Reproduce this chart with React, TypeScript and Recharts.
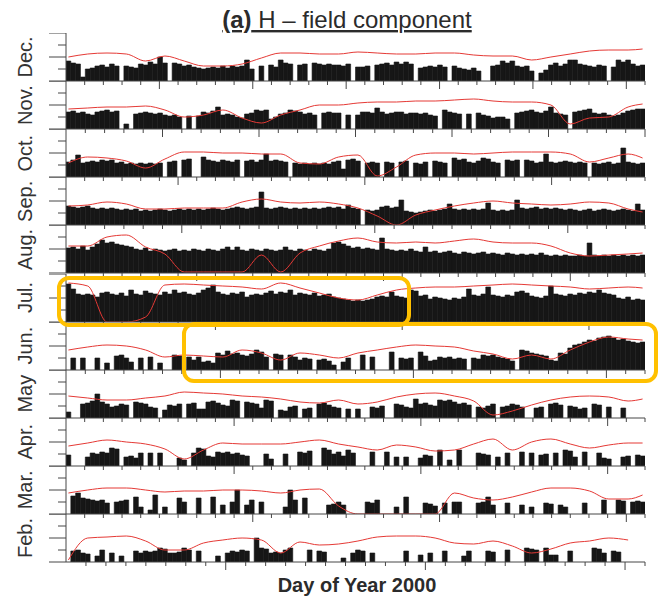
import { ComposedChart, Bar, Line, XAxis, YAxis } from 'recharts'

// rows from top to bottom
const months = ['Dec.', 'Nov.', 'Oct.', 'Sep.', 'Aug.', 'Jul.', 'Jun.', 'May', 'Apr.', 'Mar.', 'Feb.']
const dayStart = [335, 305, 274, 244, 213, 182, 152, 121, 91, 60, 32]
const dayCount = [31, 30, 31, 30, 31, 31, 30, 31, 31, 31, 29]
const majorStep = [5, 5, 10, 10, 10, 10, 10, 10, 10, 10, 10]

// activity bars, 120 per month (height on a 0-48 row scale)
const barsDec = [20,18,17,4,12,13,15,16,14,17, 15,0,15,14,13,17,16,19,17,24, 18,0,18,17,15,16,14,13,12,13, 14,13,15,13,15,14,15,21,12,0, 15,0,16,14,21,18,17,0,16,17, 0,18,17,16,17,
  16,16,15,17,0,14,14,15,0,16, 17,18,16,19,17,19,17,0,13,14, 15,14,16,14,0,15,13,12,11,13, 10,0,0,15,16,20,18,20,15,14, 15,10,0,8,11,16,18,15,17,21, 21,17,16,15,14,16,15,0,14,21, 19,21,17,15,16]
const barsNov = [17,18,16,17,15,14,17,18,19,17, 18,0,5,0,15,16,17,16,15,16, 14,13,14,12,0,13,0,13,17,16, 18,22,14,15,14,12,11,15,16,19, 18,19,10,12,15,16,19,18,17,15, 16,14,0,16,17,
  16,16,0,14,0,14,17,17,16,21, 17,15,16,17,17,15,16,16,15,16, 14,13,0,19,17,16,15,0,15,0, 16,14,13,11,12,12,10,0,16,17, 18,19,17,16,18,22,16,15,14,0, 17,18,19,20,16,15,16,14,13,14, 16,18,19,20,20]
const barsOct = [15,17,22,14,15,16,15,17,16,17, 14,15,13,14,13,14,13,14,13,14, 0,15,16,0,17,18,0,0,20,17, 16,15,17,16,15,17,0,16,17,15, 17,23,16,17,16,15,0,14,13,14, 13,14,13,14,13,
  15,16,8,17,18,16,0,14,15,14, 0,15,14,0,15,16,0,14,13,15, 0,16,15,14,0,19,17,18,15,14, 16,19,18,15,14,0,17,16,17,0, 17,16,14,15,23,15,14,15,16,15, 14,15,14,0,14,13,14,15,13,14, 29,15,14,13,14]
const barsSep = [19,18,17,18,19,17,16,17,16,17, 16,15,16,15,16,14,15,14,15,16, 15,14,15,16,15,16,15,16,15,16, 17,16,15,16,17,18,17,16,17,18, 33,17,16,17,18,17,16,17,16,17, 16,17,16,17,18,
  17,18,16,20,17,16,0,15,14,15, 18,19,17,18,25,14,13,12,13,14, 15,14,15,16,21,16,15,16,15,16, 15,16,22,15,14,15,14,15,25,17, 16,17,18,16,17,16,17,16,15,16, 15,14,15,16,14,15,16,15,14,15, 16,15,14,21,15]
const barsAug = [25,26,24,27,23,26,29,33,30,31, 29,28,27,26,24,23,25,22,24,23, 22,23,24,22,23,22,24,23,22,24, 23,22,24,26,23,26,23,22,24,23, 22,24,23,22,23,26,23,22,24,23, 22,24,23,22,24,
  30,31,29,27,25,26,24,25,24,23, 35,24,23,22,23,22,24,22,21,26, 21,22,20,21,22,20,19,21,20,19, 20,21,19,20,19,18,20,19,18,19, 18,19,18,20,18,17,18,17,18,17, 17,18,17,30,18,17,18,17,18,17, 18,17,18,17,18]
const barsJul = [38,33,28,27,28,27,25,29,30,28, 27,29,26,32,28,27,31,29,28,27, 30,28,32,29,30,28,27,29,32,34, 37,30,28,27,29,28,30,25,27,28, 27,29,31,28,30,29,32,27,29,28, 27,29,26,27,28,
  25,24,23,22,21,22,21,22,23,25, 26,25,30,26,25,24,32,31,26,27, 23,25,24,23,22,24,23,25,33,27, 26,28,35,27,26,25,27,26,30,31, 29,26,25,24,26,36,28,27,26,28, 27,29,28,30,29,32,29,28,27,24, 23,25,22,23,22]
const barsJun = [0,12,0,12,0,0,12,0,7,0, 14,15,12,8,0,12,0,13,0,7, 0,0,15,14,0,13,10,13,8,9, 7,17,15,19,16,17,15,14,16,20, 18,13,0,16,15,0,15,13,10,12, 11,0,10,11,9,
  5,0,8,12,0,0,15,0,13,0, 0,0,18,0,12,11,12,0,18,14, 9,10,13,12,13,11,12,11,0,12, 11,15,14,15,13,12,11,9,0,20, 19,17,16,15,14,10,9,17,16,22, 25,26,28,30,29,32,33,34,32,30, 31,29,28,27,28]
const barsMay = [6,0,0,14,15,17,24,16,14,11, 12,14,13,0,16,15,14,11,10,0, 8,13,12,14,0,14,15,9,9,16, 17,15,13,12,18,17,0,16,15,14, 10,18,17,0,8,7,11,12,0,9, 10,0,14,15,13,
  11,10,0,9,0,9,0,0,11,10, 12,0,0,14,13,11,10,19,14,15, 13,12,18,17,18,16,14,15,13,0, 11,10,12,14,0,11,12,14,13,11, 0,0,10,11,0,14,15,13,0,12, 11,9,10,0,14,13,0,11,0,0, 10,0,0,0,0]
const barsApr = [11,0,0,0,9,13,12,14,13,18, 17,0,9,10,8,13,0,13,0,13, 0,0,0,8,6,0,13,18,17,10, 9,14,13,14,12,13,11,10,0,0, 0,12,7,0,0,12,0,0,14,13, 15,0,0,18,16,
  12,14,10,16,13,0,0,0,14,0, 0,14,0,9,0,9,0,0,8,11, 10,0,16,0,6,0,16,0,0,0, 13,12,11,0,9,0,13,0,0,14, 0,13,0,11,12,0,13,0,16,15, 9,0,14,0,0,13,8,7,0,0, 9,10,0,11,10]
const barsMar = [0,18,21,16,15,14,13,14,11,0, 12,13,14,0,17,7,0,4,19,0, 7,0,0,16,12,0,0,16,0,0, 17,0,9,0,12,24,0,9,14,0, 12,0,0,0,0,7,24,14,0,16, 0,0,0,0,9,
  10,12,9,0,0,0,0,12,11,14, 0,0,0,7,0,17,0,0,0,11, 10,8,0,11,0,12,12,0,0,0, 11,12,17,9,0,0,11,0,0,9, 0,7,0,0,11,10,0,9,7,0, 0,0,11,0,0,0,14,0,0,14, 13,0,12,13,12]
const barsFeb = [0,11,12,9,8,0,6,12,0,9, 0,6,0,0,11,9,11,10,11,14, 13,9,9,10,14,12,0,11,0,0, 0,6,0,9,11,10,12,11,0,24, 14,13,9,10,9,12,14,0,0,0, 12,0,11,10,0,
  0,0,4,0,9,12,11,0,9,0, 0,0,0,0,0,11,0,0,7,0, 9,0,0,11,0,0,0,6,11,0, 0,0,11,10,0,0,12,0,0,0, 14,13,12,0,14,7,7,0,0,11, 0,0,0,0,14,13,9,0,11,10, 0,0,0,0,0]

// red reference curve, 31 points per month
const redDec = [24,27,28,27,20,25,20,15,15,17,23,28,28,27, 27,29,28,27,27,28,28,26,25,25,21,24,27,30,31,31,32]
const redNov = [20,21,22,22,23,19,12,14,19,11,6,14,19,24, 24,26,27,27,28,28,29,30,28,27,27,24,5,11,12,22,25]
const redOct = [14,20,19,16,9,18,25,25,24,24,23,23,14,13, 20,22,1,10,22,24,24,23,24,25,25,25,23,15,19,23,19]
const redSep = [19,20,23,21,16,16,17,17,17,23,26,23,22,23, 21,17,9,0,10,15,19,22,24,22,21,20,21,23,22,16,13]
const redAug = [27,27,36,38,26,19,1,1,1,1,18,1,20,27, 32,35,31,30,31,30,32,34,31,30,30,27,20,17,18,19,20]
const redJul = [39,36,0,0,5,37,38,37,36,35,33,39,34,29, 24,22,27,32,34,35,35,36,37,38,37,36,35,33,34,35,34]
const redJun = [20,23,25,24,20,13,15,14,13,20,17,10,17,15, 12,17,20,23,25,24,23,19,16,11,15,11,20,28,33,31,30]
const redMay = [22,20,18,18,20,22,26,25,24,22,21,19,16,15, 18,14,16,21,24,25,22,17,3,7,13,18,21,22,21,17,19]
const redApr = [20,23,26,24,22,17,7,16,23,22,22,22,24,26, 22,19,16,21,19,15,16,22,27,16,24,27,22,18,21,23,23]
const redMar = [21,24,26,26,24,22,23,23,24,24,23,21,24,25, 8,0,0,0,0,0,21,16,14,17,22,26,26,23,15,15,19]
const redFeb = [2,24,25,26,21,12,12,19,22,24,22,9,20,17, 18,21,25,26,26,24,19,18,21,16,9,13,19,21,24,22,null]

const barRows = [barsDec, barsNov, barsOct, barsSep, barsAug, barsJul, barsJun, barsMay, barsApr, barsMar, barsFeb]
const redRows = [redDec, redNov, redOct, redSep, redAug, redJul, redJun, redMay, redApr, redMar, redFeb]

const AXIS = '#474747'
const INK = '#161616'
const RED = '#e53935'
const FONT = '"Liberation Sans", Arial, sans-serif'

const PLOT_LEFT = 66
const PLOT_RIGHT = 645
const ROW_TOP = 33
const ROW_STEP = 48.1
const ROW_H = 48

function buildRow(bars: number[], red: (number | null)[], start: number, days: number) {
  const n = bars.length
  return bars.map((v, i) => {
    let r: number | null | undefined
    if (i % 4 === 0 && i / 4 < red.length - 1) r = red[i / 4]
    else if (i === n - 1) r = red[red.length - 1]
    return { day: start + ((i + 0.5) * days) / n, v, r }
  })
}

function MonthRow({ idx }: { idx: number }) {
  const start = dayStart[idx]
  const days = dayCount[idx]
  const step = majorStep[idx]
  const bars = barRows[idx]
  const data = buildRow(bars, redRows[idx], start, days)
  const ticks: number[] = []
  for (let d = start + 1; d <= start + days; d++) ticks.push(d)
  const barW = (PLOT_RIGHT - PLOT_LEFT) / bars.length - 0.02

  const xTick = (p: any) => {
    const len = p.payload.value % step === 0 ? 8 : 4
    return <line x1={p.x} x2={p.x} y1={p.y} y2={p.y + len} stroke={AXIS} strokeWidth={1} />
  }
  const yTick = (p: any) => {
    const len = p.payload.value % 24 === 0 ? 17 : 8
    return <line x1={p.x - len} x2={p.x} y1={p.y} y2={p.y} stroke={AXIS} strokeWidth={1} />
  }

  return (
    <div style={{ position: 'absolute', left: 0, top: Math.round(ROW_TOP + idx * ROW_STEP) }}>
      <ComposedChart
        width={659}
        height={ROW_H + 10}
        data={data}
        margin={{ top: 0, right: 659 - PLOT_RIGHT, bottom: 0, left: 0 }}
        barCategoryGap={0}
        barGap={0}
      >
        <XAxis
          dataKey="day"
          type="number"
          domain={[start, start + days]}
          ticks={ticks}
          interval={0}
          allowDataOverflow
          height={10}
          tickSize={0}
          tickMargin={0}
          tickLine={false}
          tick={xTick}
          stroke={AXIS}
        />
        <YAxis
          type="number"
          domain={[0, 48]}
          ticks={[0, 12, 24, 36, 48]}
          interval={0}
          allowDataOverflow
          width={PLOT_LEFT}
          tickSize={0}
          tickMargin={0}
          tickLine={false}
          tick={yTick}
          stroke={AXIS}
        />
        <Bar dataKey="v" fill={INK} stroke={INK} strokeWidth={0.6} barSize={barW} isAnimationActive={false} />
        <Line
          dataKey="r"
          type="monotone"
          stroke={RED}
          strokeWidth={1}
          dot={false}
          connectNulls
          isAnimationActive={false}
        />
      </ComposedChart>
    </div>
  )
}

export default function App() {
  return (
    <div style={{ position: 'absolute', left: 0, top: 0, width: 659, height: 598, background: '#fff', fontFamily: FONT }}>
      {months.map((m, i) => (
        <MonthRow key={m} idx={i} />
      ))}
      <svg width={659} height={598} style={{ position: 'absolute', left: 0, top: 0, pointerEvents: 'none' }}>
        <text
          x={347}
          y={28}
          textAnchor="middle"
          fontSize={24}
          fontFamily={FONT}
          fill="#2b2b2b"
          style={{ textDecoration: 'underline' }}
        >
          <tspan fontWeight="bold">(a)</tspan> H – field component
        </text>
        {months.map((m, i) => (
          <text
            key={m}
            transform={`translate(32, ${ROW_TOP + i * ROW_STEP + ROW_H / 2}) rotate(-90)`}
            textAnchor="middle"
            fontSize={20}
            fontFamily={FONT}
            fill="#333"
          >
            {m}
          </text>
        ))}
        <text x={357} y={592} textAnchor="middle" fontSize={20} fontWeight="bold" fontFamily={FONT} fill="#2b2b2b">
          Day of Year 2000
        </text>
      </svg>
      <div
        style={{
          position: 'absolute', left: 57, top: 276, width: 354, height: 51,
          border: '4px solid #FFC000', borderRadius: 12, boxSizing: 'border-box',
        }}
      />
      <div
        style={{
          position: 'absolute', left: 182, top: 322, width: 476, height: 61,
          border: '4px solid #FFC000', borderRadius: 12, boxSizing: 'border-box',
        }}
      />
    </div>
  )
}
